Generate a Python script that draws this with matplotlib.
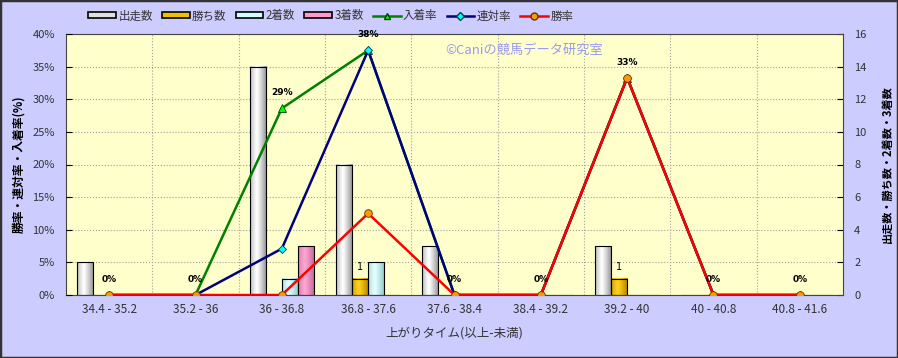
import numpy as np
import matplotlib
matplotlib.use("Agg")
import matplotlib.pyplot as plt
from matplotlib.patches import Rectangle, Patch
from matplotlib.lines import Line2D

plt.rcParams['font.family'] = ['Noto Sans CJK JP', 'DejaVu Sans']

categories = ["34.4 - 35.2", "35.2 - 36", "36 - 36.8", "36.8 - 37.6", "37.6 - 38.4",
              "38.4 - 39.2", "39.2 - 40", "40 - 40.8", "40.8 - 41.6"]
starts = [2, 0, 14, 8, 3, 0, 3, 0, 0]      # 出走数
wins = [0, 0, 0, 1, 0, 0, 1, 0, 0]         # 勝ち数
seconds = [0, 0, 1, 2, 0, 0, 0, 0, 0]      # 2着数
thirds = [0, 0, 3, 0, 0, 0, 0, 0, 0]       # 3着数
place_rate = [0, 0, 28.6, 37.5, 0, 0, 33.3, 0, 0]   # 入着率
quinella_rate = [0, 0, 7.1, 37.5, 0, 0, 33.3, 0, 0]  # 連対率
win_rate = [0, 0, 0, 12.5, 0, 0, 33.3, 0, 0]         # 勝率
place_labels = ["0%", "0%", "29%", "38%", "0%", "0%", "33%", "0%", "0%"]

W, H = 898, 358
fig = plt.figure(figsize=(W / 100, H / 100), dpi=100)
fig.patch.set_facecolor('#CCCCFF')
fig.add_artist(Rectangle((0, 0), 1, 1, transform=fig.transFigure, fill=False,
                         edgecolor='#333333', lw=2.5))

L, R, T, B = 66, 843, 34, 295
ax = fig.add_axes([L / W, 1 - B / H, (R - L) / W, (B - T) / H])
ax.set_facecolor('#FFFFCC')
ax2 = ax.twinx()
ax2.patch.set_visible(False)

x = np.arange(len(categories))
w = 0.186

bar_specs = [
    (starts, -1.5, ('#8C8C8C', '#FFFFFF')),
    (wins, -0.5, ('#B08000', '#FFD21A')),
    (seconds, 0.5, ('#88C4C4', '#E6FFFF')),
    (thirds, 1.5, ('#C0608F', '#FFA6D2')),
]
for vals, off, (dark, light) in bar_specs:
    bars = ax.bar(x + off * w, vals, width=w, facecolor='none', edgecolor='black',
                  linewidth=0.8, zorder=3)
    d = np.array(matplotlib.colors.to_rgb(dark))
    l = np.array(matplotlib.colors.to_rgb(light))
    t = np.linspace(0, 1, 64)
    f = np.clip(np.abs(t - 0.4) / 0.6, 0, 1) ** 1.2
    grad = l[None, :] + (d - l)[None, :] * f[:, None]
    for rect, v in zip(bars, vals):
        if v <= 0:
            continue
        x0 = rect.get_x()
        ax.imshow(grad[None, :, :], extent=[x0, x0 + rect.get_width(), 0, v],
                  aspect='auto', zorder=2.5, interpolation='bilinear')

for xi, v in zip(x, wins):
    if v > 0:
        ax.annotate(str(v), (xi - 0.5 * w, v), xytext=(0, 5), textcoords='offset points',
                    ha='center', va='bottom', fontsize=7, family='DejaVu Sans')

ax.set_xlim(-0.5, len(categories) - 0.5)
ax.set_ylim(0, 16)
ax.set_yticks(np.arange(0, 17, 2))
ax.set_xticks(x)
ax.set_xticklabels(categories)
ax.tick_params(axis='x', length=0, labelsize=8.5, labelcolor='#333333', pad=6)
ax.set_xticks(np.arange(0.5, len(categories) - 0.5, 1), minor=True)
ax.tick_params(axis='x', which='minor', length=0)
ax.grid(True, which='minor', axis='x', color='#A0A0A0', linestyle=':', linewidth=0.8)
ax.grid(True, which='major', axis='y', color='#A0A0A0', linestyle=':', linewidth=0.8)
ax.set_axisbelow(True)
for s in ax.spines.values():
    s.set_color('#444444')
    s.set_linewidth(0.8)
ax.set_xlabel('上がりタイム(以上-未満)', fontsize=9, color='#333333', labelpad=7)

ax2.set_ylim(0, 40)
ax2.set_yticks(np.arange(0, 41, 5))
ax2.set_yticklabels([f"{v}%" for v in range(0, 41, 5)])
for s in ax2.spines.values():
    s.set_visible(False)

# put bar-count scale on right, percentage scale on left
ax.yaxis.tick_right()
ax.yaxis.set_label_position('right')
ax2.yaxis.tick_left()
ax2.yaxis.set_label_position('left')
ax.tick_params(axis='y', which='both', left=False, labelleft=False, right=True,
               labelright=True, direction='in', length=4, labelsize=8,
               labelcolor='#333333', pad=8)
ax2.tick_params(axis='y', which='both', right=False, labelright=False, left=True,
                labelleft=True, direction='in', length=4, labelsize=8,
                labelcolor='#333333', pad=8)
ax.set_ylabel('出走数・勝ち数・2着数・3着数', fontsize=8, fontweight='bold', rotation=90,
              labelpad=10)
ax2.set_ylabel('勝率・連対率・入着率(%)', fontsize=8.5, fontweight='bold', labelpad=5)

ax2.plot(x, place_rate, color='#008000', lw=1.8, marker='^', ms=6,
         markerfacecolor='#00FF00', markeredgecolor='#004000', mew=0.6, zorder=4)
ax2.plot(x, quinella_rate, color='#000080', lw=1.8, marker='D', ms=4.5,
         markerfacecolor='#00FFFF', markeredgecolor='#004040', mew=0.6, zorder=5)
ax2.plot(x, win_rate, color='#FF0000', lw=1.8, marker='o', ms=5.5,
         markerfacecolor='#FF9900', markeredgecolor='#663300', mew=0.6, zorder=6)
for xi, v, lab in zip(x, place_rate, place_labels):
    ax2.annotate(lab, (xi, v), xytext=(0, 8), textcoords='offset points', ha='center',
                 va='bottom', fontsize=6.5, fontweight='bold', family='DejaVu Sans', zorder=7)

fig.text(445 / W, 1 - 50 / H, '©Caniの競馬データ研究室', fontsize=9.5, color='#9999EE',
         ha='left', va='center')

handles = [
    Patch(facecolor='#E0E0E0', edgecolor='black', lw=1.2),
    Patch(facecolor='#F0C000', edgecolor='black', lw=1.2),
    Patch(facecolor='#CCFFFF', edgecolor='black', lw=1.2),
    Patch(facecolor='#FF99CC', edgecolor='black', lw=1.2),
    Line2D([], [], color='#008000', lw=1.8, marker='^', ms=5, markerfacecolor='#00FF00',
           markeredgecolor='#004000'),
    Line2D([], [], color='#000080', lw=1.8, marker='D', ms=4, markerfacecolor='#00FFFF',
           markeredgecolor='#004040'),
    Line2D([], [], color='#FF0000', lw=1.8, marker='o', ms=5, markerfacecolor='#FF9900',
           markeredgecolor='#663300'),
]
labels = ['出走数', '勝ち数', '2着数', '3着数', '入着率', '連対率', '勝率']
leg = fig.legend(handles, labels, loc='center left', bbox_to_anchor=(78 / W, 1 - 16 / H),
                 ncol=7, frameon=False, fontsize=8.3, handlelength=2.4, handleheight=0.45,
                 handletextpad=0.2, columnspacing=0.8, labelcolor='#333333')

fig.savefig('out.png', dpi=100, facecolor=fig.get_facecolor())
